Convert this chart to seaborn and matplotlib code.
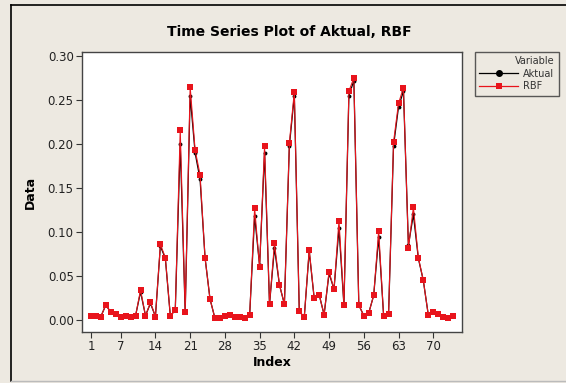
import numpy as np
import pandas as pd
import matplotlib
matplotlib.use("Agg")
import matplotlib.pyplot as plt
from matplotlib.lines import Line2D
import seaborn as sns

rbf = [0.005, 0.005, 0.004, 0.017, 0.009, 0.007, 0.003, 0.005, 0.003, 0.005,
       0.034, 0.005, 0.020, 0.004, 0.086, 0.071, 0.005, 0.011, 0.216, 0.009,
       0.265, 0.193, 0.165, 0.071, 0.024, 0.002, 0.002, 0.005, 0.006, 0.004,
       0.004, 0.002, 0.006, 0.127, 0.060, 0.198, 0.018, 0.087, 0.040, 0.018,
       0.201, 0.259, 0.010, 0.003, 0.080, 0.025, 0.029, 0.006, 0.055, 0.035,
       0.113, 0.017, 0.260, 0.275, 0.017, 0.005, 0.008, 0.028, 0.101, 0.005,
       0.007, 0.202, 0.246, 0.264, 0.082, 0.128, 0.071, 0.045, 0.006, 0.009,
       0.007, 0.004, 0.002, 0.005]
aktual = [0.005, 0.005, 0.004, 0.017, 0.009, 0.007, 0.003, 0.005, 0.003, 0.005,
          0.032, 0.005, 0.019, 0.004, 0.084, 0.070, 0.005, 0.011, 0.200, 0.009,
          0.255, 0.190, 0.160, 0.071, 0.024, 0.002, 0.002, 0.005, 0.006, 0.004,
          0.004, 0.002, 0.006, 0.118, 0.062, 0.190, 0.018, 0.082, 0.040, 0.018,
          0.198, 0.255, 0.010, 0.003, 0.078, 0.025, 0.029, 0.006, 0.053, 0.035,
          0.104, 0.017, 0.255, 0.272, 0.017, 0.005, 0.008, 0.028, 0.094, 0.005,
          0.007, 0.198, 0.242, 0.260, 0.085, 0.120, 0.070, 0.045, 0.006, 0.009,
          0.007, 0.004, 0.002, 0.005]
xticks = [1, 7, 14, 21, 28, 35, 42, 49, 56, 63, 70]
yticks = [0.00, 0.05, 0.10, 0.15, 0.20, 0.25, 0.30]

n = len(rbf)
idx = np.arange(1, n + 1)
df = pd.DataFrame({
    "Index": np.concatenate([idx, idx]),
    "Data": aktual + rbf,
    "Variable": ["Aktual"] * n + ["RBF"] * n,
})

bg = "#EDE9E1"
plt.rcParams["font.family"] = ["DejaVu Sans"]
fig = plt.figure(figsize=(5.66, 3.83), dpi=100, facecolor=bg)
ax = fig.add_axes([82 / 566, 1 - 332 / 383, 380 / 566, 280 / 383])
ax.set_facecolor("white")

sns.lineplot(data=df[df.Variable == "Aktual"], x="Index", y="Data", ax=ax,
             color="black", lw=0.9, marker="o", markersize=2.8,
             markeredgewidth=0, legend=False)
sns.lineplot(data=df[df.Variable == "RBF"], x="Index", y="Data", ax=ax,
             color="#E8141C", lw=0.8, marker="s", markersize=3.9,
             markeredgewidth=0, legend=False)

ax.set_xlim(-0.8, 75.8)
ax.set_ylim(-0.0136, 0.3045)
ax.set_xticks(xticks)
ax.set_xticklabels([str(t) for t in xticks])
ax.set_yticks(yticks)
ax.set_yticklabels([f"{t:.2f}" for t in yticks])
ax.tick_params(direction="out", length=4, width=0.8, color="#333333",
               labelsize=8.5, labelcolor="#222222", pad=2)
for s in ax.spines.values():
    s.set_color("#444444")
    s.set_linewidth(1.0)
ax.set_xlabel("Index", fontsize=9, fontweight="bold", labelpad=2)
ax.set_ylabel("Data", fontsize=9, fontweight="bold", labelpad=8)

fig.text(289 / 566, 1 - 32 / 383, "Time Series Plot of Aktual, RBF",
         ha="center", va="center", fontsize=10, fontweight="bold")

handles = [
    Line2D([], [], color="black", lw=0.9, marker="o", markersize=4),
    Line2D([], [], color="#E8141C", lw=0.9, marker="s", markersize=5,
           markeredgewidth=0),
]
leg = fig.legend(handles, ["Aktual", "RBF"], title="Variable",
                 loc="upper left", bbox_to_anchor=(475 / 566, 1 - 52 / 383),
                 bbox_transform=fig.transFigure, fontsize=7, title_fontsize=7,
                 frameon=True, fancybox=False, handlelength=4.0,
                 borderpad=0.45, labelspacing=0.25, handletextpad=0.5,
                 borderaxespad=0, alignment="right")
leg.get_frame().set_edgecolor("#333333")
leg.get_frame().set_facecolor(bg)
leg.get_frame().set_linewidth(1.0)
for t in leg.get_texts():
    t.set_color("#333333")
leg.get_title().set_color("#333333")

# outer graph window frame
fig.add_artist(Line2D([11 / 566, 11 / 566], [1 - 5 / 383, 1 - 381 / 383],
                      transform=fig.transFigure, color="black", lw=1.2))
fig.add_artist(Line2D([11 / 566, 1.0], [1 - 5 / 383, 1 - 5 / 383],
                      transform=fig.transFigure, color="black", lw=1.2))
fig.add_artist(Line2D([11 / 566, 1.0], [1 - 381 / 383, 1 - 381 / 383],
                      transform=fig.transFigure, color="#BBBBBB", lw=1.0))

fig.savefig("out.png", dpi=100, facecolor=bg)
